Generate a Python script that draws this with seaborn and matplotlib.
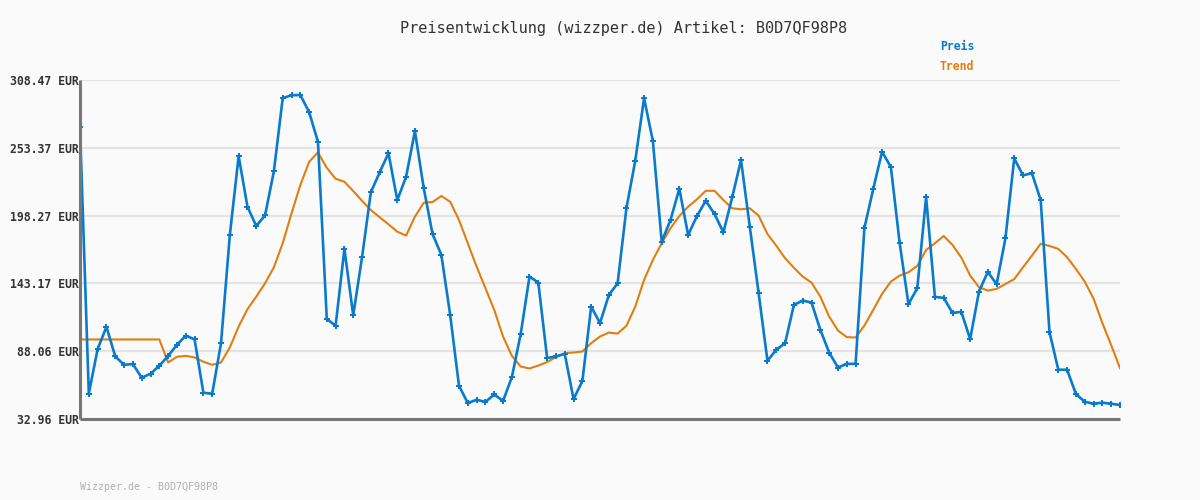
import seaborn as sns
import numpy as np
import pandas as pd
import matplotlib.pyplot as plt

# price values (EUR), one per day
preis = [269.9, 53.5, 89.8, 107.9, 83.8, 77.0, 77.6, 66.5, 69.7, 76.2,
         84.3, 93.2, 100.8, 97.6, 54.3, 53.5, 94.6, 182.5, 246.6, 205.5,
         189.8, 198.5, 234.4, 293.7, 296.1, 296.3, 282.3, 258.2, 114.4, 108.7,
         171.2, 117.3, 164.4, 217.2, 233.4, 249.0, 210.9, 229.8, 266.9, 220.6,
         183.3, 166.3, 117.6, 60.0, 45.9, 48.6, 46.8, 52.9, 47.6, 67.0,
         101.9, 148.7, 143.8, 82.5, 83.8, 85.9, 49.2, 63.8, 124.3, 110.9,
         133.6, 143.3, 204.4, 242.8, 293.7, 258.8, 177.1, 194.7, 220.1, 182.5,
         197.9, 210.3, 199.5, 184.7, 213.1, 243.4, 189.0, 135.2, 80.3, 89.2,
         94.6, 125.7, 129.2, 127.6, 105.4, 87.0, 74.8, 77.8, 77.8, 188.2,
         219.8, 250.1, 237.9, 176.0, 126.3, 139.3, 213.3, 132.2, 131.4, 119.2,
         120.0, 97.9, 136.5, 152.5, 142.5, 179.8, 244.7, 230.9, 232.8, 210.9,
         103.6, 73.0, 73.0, 53.2, 47.0, 45.4, 46.2, 45.4, 44.3]

trend = [97.6, 97.6, 97.6, 97.6, 97.6, 97.6, 97.6, 97.6, 97.6, 97.6,
         78.9, 83.5, 84.3, 83.0, 79.5, 77.0, 78.9, 91.1, 108.1, 122.2,
         132.4, 143.3, 156.3, 175.8, 200.1, 223.1, 242.0, 249.6, 237.1, 228.2,
         225.8, 218.2, 210.3, 202.8, 196.9, 191.2, 185.2, 182.0, 197.4, 208.7,
         209.3, 214.2, 209.5, 194.7, 175.8, 156.8, 139.3, 121.6, 100.0, 84.3,
         75.6, 74.0, 76.4, 79.2, 83.3, 86.5, 87.0, 87.8, 94.6, 100.0,
         103.2, 102.4, 108.7, 124.3, 146.0, 162.2, 175.8, 188.0, 197.9, 205.5,
         211.5, 218.4, 218.4, 210.9, 204.2, 203.4, 204.2, 198.2, 183.3, 173.8,
         163.6, 155.9, 148.7, 143.8, 132.4, 116.2, 104.9, 99.5, 99.2, 108.9,
         121.6, 134.6, 144.6, 149.5, 152.2, 157.4, 170.3, 175.8, 181.7, 174.4,
         164.1, 149.5, 140.1, 137.3, 138.7, 142.7, 146.6, 156.3, 165.7, 175.4,
         173.6, 171.2, 164.4, 154.9, 144.6, 130.8, 110.9, 93.0, 74.3]

y_ticks = [32.96, 88.06, 143.17, 198.27, 253.37, 308.47]
tick_labels = ['%.2f EUR' % t for t in y_ticks]

df = pd.DataFrame({'tag': np.arange(len(preis)), 'preis': preis, 'trend': trend})

blau = '#0a7bcc'
orange = '#e07f10'
bg = '#fafafa'

fig = plt.figure(figsize=(12, 5), dpi=100, facecolor=bg)
ax = fig.add_axes([80 / 1200, 81 / 500, 1040 / 1200, 339 / 500])
ax.set_facecolor(bg)

#trend line first so the price line sits on top
sns.lineplot(x='tag', y='trend', data=df, color=orange, linewidth=1.5, ax=ax)
sns.lineplot(x='tag', y='preis', data=df, color=blau, linewidth=1.9,
             marker='P', markersize=4.2, markeredgewidth=0, ax=ax)

ax.set_xlim(0, len(preis) - 1)
ax.set_ylim(y_ticks[0], y_ticks[-1])
ax.set_yticks(y_ticks)
ax.set_yticklabels(tick_labels, family='DejaVu Sans Mono', fontsize=8.3,
                   fontweight='bold', color='#333333')
ax.set_xticks([])
ax.tick_params(axis='y', length=0, pad=1)
ax.set_xlabel('')
ax.set_ylabel('')

ax.grid(axis='y', color='#e3e3e3', linewidth=1.6, zorder=0)
ax.set_axisbelow(True)
for s in ['top', 'right']:
    ax.spines[s].set_visible(False)
for s in ['left', 'bottom']:
    ax.spines[s].set_color('#777777')
    ax.spines[s].set_linewidth(2.2)
    ax.spines[s].set_capstyle('butt')

fig.text(0.52, 1 - 28 / 500, 'Preisentwicklung (wizzper.de) Artikel: B0D7QF98P8',
         family='DejaVu Sans Mono', fontsize=11, color='#333333',
         ha='center', va='center')
fig.text(940 / 1200, 1 - 47 / 500, 'Preis', family='DejaVu Sans Mono',
         fontsize=8.3, fontweight='bold', color=blau, va='center')
fig.text(940 / 1200, 1 - 67 / 500, 'Trend', family='DejaVu Sans Mono',
         fontsize=8.3, fontweight='bold', color=orange, va='center')
fig.text(80 / 1200, 1 - 487 / 500, 'Wizzper.de - B0D7QF98P8', family='DejaVu Sans Mono',
         fontsize=7.2, color='#b0b0b0', va='center')

fig.savefig('out.png', dpi=100, facecolor=bg)
